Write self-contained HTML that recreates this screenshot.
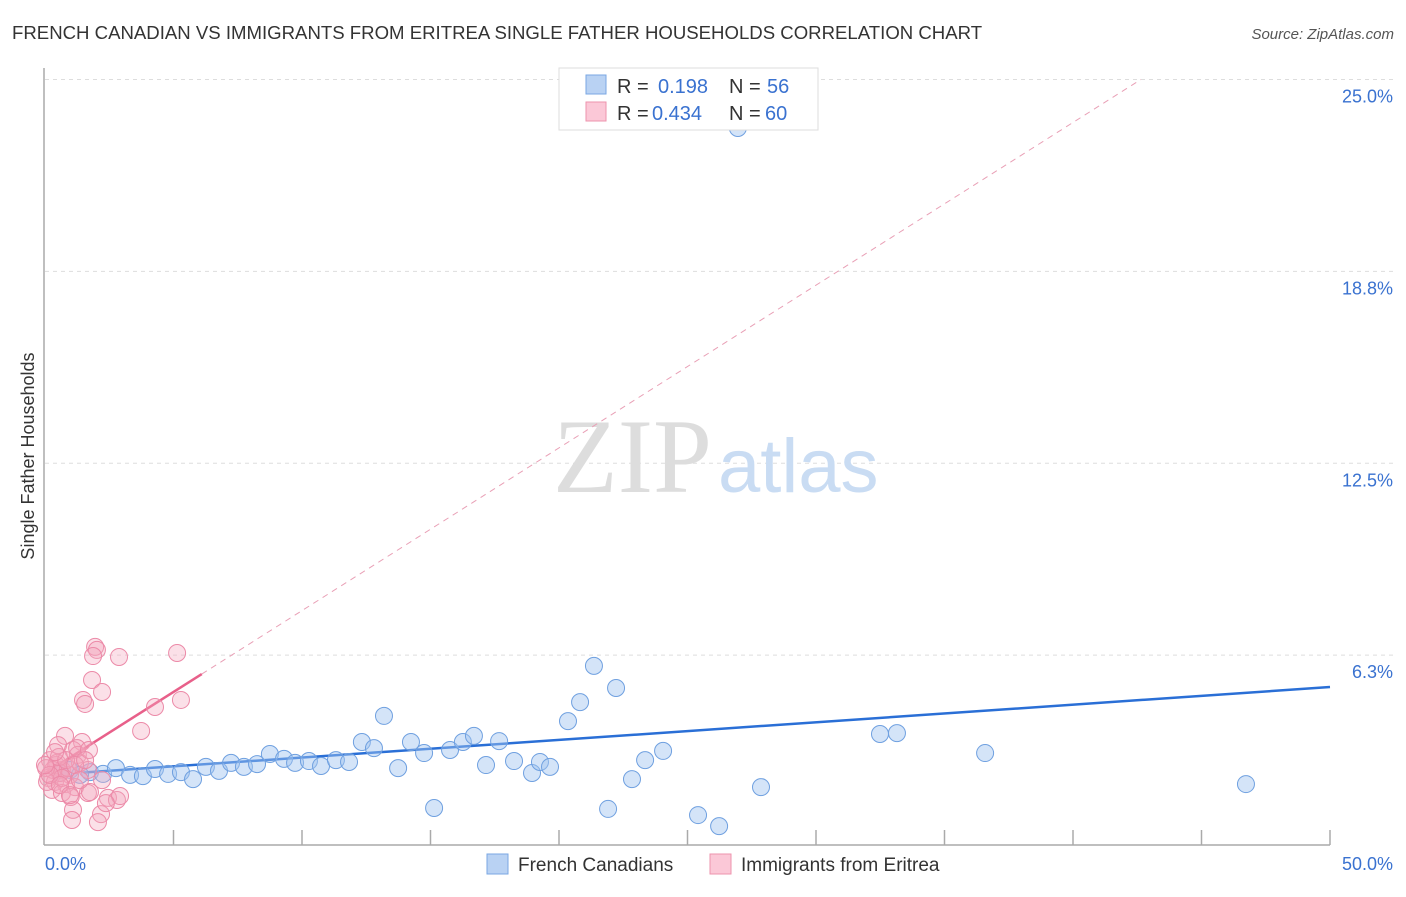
<!DOCTYPE html>
<html><head><meta charset="utf-8"><style>
body{margin:0;background:#fff;font-family:"Liberation Sans",sans-serif;}
svg text{font-family:"Liberation Sans",sans-serif;}
</style></head><body>
<svg width="1406" height="892">
<text x="12" y="39" font-size="18.6" fill="#333">FRENCH CANADIAN VS IMMIGRANTS FROM ERITREA SINGLE FATHER HOUSEHOLDS CORRELATION CHART</text>
<text x="1394" y="39" font-size="15" fill="#555" font-style="italic" text-anchor="end">Source: ZipAtlas.com</text>
<text transform="translate(34,456) rotate(-90)" font-size="18" fill="#333" text-anchor="middle">Single Father Households</text>
<g id="grid"></g>
<text x="553" y="492" font-size="106" fill="#ddd" style="font-family:'Liberation Serif',serif">ZIP</text>
<text x="718" y="492" font-size="76" fill="#c9dcf3">atlas</text>
<line x1="44" y1="68" x2="44" y2="845" stroke="#aaa" stroke-width="1.5"/>
<line x1="44" y1="845" x2="1330" y2="845" stroke="#aaa" stroke-width="1.5"/>
<g id="ticks"></g>
<g id="lines"></g>
<g id="pts"></g>
<g>
<rect x="559" y="68" width="259" height="62" fill="#fff" stroke="#ddd"/>
<rect x="586" y="75" width="20" height="19" fill="#b9d2f3" stroke="#7aa7e3"/>
<rect x="586" y="102" width="20" height="19" fill="#fbc8d7" stroke="#ee93ad"/>
<text x="617" y="93" font-size="20" fill="#333">R =</text><text x="658" y="93" font-size="20" fill="#3a72d0">0.198</text>
<text x="729" y="93" font-size="20" fill="#333">N =</text><text x="767" y="93" font-size="20" fill="#3a72d0">56</text>
<text x="617" y="120" font-size="20" fill="#333">R =</text><text x="652" y="120" font-size="20" fill="#3a72d0">0.434</text>
<text x="729" y="120" font-size="20" fill="#333">N =</text><text x="765" y="120" font-size="20" fill="#3a72d0">60</text>
</g>
<text x="45" y="870" font-size="18" fill="#3a72d0">0.0%</text>
<text x="1393" y="870" font-size="18" fill="#3a72d0" text-anchor="end">50.0%</text>
<g>
<rect x="487" y="854" width="21" height="20" fill="#b9d2f3" stroke="#7aa7e3"/>
<text x="518" y="871" font-size="19" fill="#333">French Canadians</text>
<rect x="710" y="854" width="21" height="20" fill="#fbc8d7" stroke="#ee93ad"/>
<text x="741" y="871" font-size="19" fill="#333">Immigrants from Eritrea</text>
</g>
</svg>
<script>
const yTicks=[6.25,12.5,18.75,25];
const yTickLabels=["6.3%","12.5%","18.8%","25.0%"];
const xTicks=[5,10,15,20,25,30,35,40,45,50];
const blueX=[1.75,2.26,2.76,3.31,3.81,4.28,4.79,5.29,5.76,6.26,6.77,7.24,7.74,8.25,8.75,9.30,9.73,10.27,10.74,11.32,11.83,12.33,12.80,13.19,13.74,14.24,14.75,15.14,15.76,16.26,16.69,17.16,17.67,18.25,18.95,19.26,19.65,20.35,20.82,21.36,21.91,22.22,22.84,23.35,24.05,25.41,26.23,26.96,27.86,32.49,33.15,36.58,46.73,0.97,1.36,0.58];
const blueY=[2.44,2.38,2.57,2.35,2.31,2.54,2.38,2.44,2.21,2.61,2.48,2.74,2.61,2.70,3.03,2.87,2.74,2.80,2.64,2.83,2.77,3.42,3.22,4.27,2.57,3.42,3.06,1.27,3.16,3.42,3.62,2.67,3.45,2.80,2.41,2.77,2.61,4.10,4.72,5.90,1.24,5.18,2.21,2.83,3.13,1.04,0.68,23.42,1.95,3.68,3.71,3.06,2.05,2.51,2.35,2.41];
const pinkX=[1.95,2.02,1.87,2.88,5.14,1.83,2.22,1.48,1.56,4.28,5.29,3.74,0.78,1.44,0.51,1.09,1.28,0.19,0.43,0.66,0.97,0.12,0.39,0.82,1.17,0.27,0.66,1.0,1.67,1.75,2.45,2.80,2.92,1.09,2.18,2.37,1.05,2.06,0.47,0.58,0.89,0.31,0.04,1.36,1.67,0.08,0.54,0.82,1.17,0.66,0.19,1.25,1.71,0.58,1.36,0.97,2.22,0,0.39,1.56];
const pinkY=[6.52,6.42,6.22,6.19,6.32,5.44,5.05,4.79,4.66,4.56,4.79,3.78,3.62,3.42,3.32,3.16,3.0,2.83,2.67,2.51,2.35,2.25,2.12,2.05,1.95,1.86,1.76,1.63,1.76,1.79,1.60,1.53,1.66,1.21,1.07,1.43,0.88,0.81,2.74,2.41,2.57,2.51,2.57,2.74,2.51,2.12,2.93,2.83,2.67,2.25,2.35,3.22,3.16,2.02,2.18,1.69,2.18,2.67,3.09,2.83];
const blueTrend=[2.34,0.0574], pinkTrend=[2.4,0.53];
const X=v=>45+v*25.7, Y=v=>847-v*30.7;
const NS="http://www.w3.org/2000/svg";
function mk(t,a,p){const e=document.createElementNS(NS,t);for(const k in a)e.setAttribute(k,a[k]);document.getElementById(p).appendChild(e);return e;}
yTicks.forEach((t,i)=>{
 const l=mk('line',{x1:45,x2:1395,y1:Y(t),y2:Y(t),stroke:'#ddd','stroke-dasharray':'4,4'},'grid');
 
 
 const tx=mk('text',{x:1393,y:Y(t)+23,'font-size':18,fill:'#3a72d0','text-anchor':'end'},'grid');
 tx.textContent=yTickLabels[i];
 
 
});
xTicks.forEach(t=>{
 const l=mk('line',{x1:X(t),x2:X(t),y1:830,y2:845,stroke:'#aaa','stroke-width':1.5},'ticks');
 
 
});
blueX.forEach((x,i)=>{
 const c=mk('circle',{cx:X(x),cy:Y(blueY[i]),r:8.5,fill:'rgba(160,196,240,0.45)',stroke:'#6fa0e0','stroke-width':1},'pts');
 
 
});
pinkX.forEach((x,i)=>{
 const c=mk('circle',{cx:X(x),cy:Y(pinkY[i]),r:8.5,fill:'rgba(244,165,190,0.35)',stroke:'#ec8aa8','stroke-width':1},'pts');
 
 
});
const bl=mk('line',{x1:X(1.5),y1:Y(blueTrend[0]+blueTrend[1]*1.5),x2:X(50),y2:Y(blueTrend[0]+blueTrend[1]*50),stroke:'#2a6fd6','stroke-width':2.5},'lines');


const xe=(25-pinkTrend[0])/pinkTrend[1];
const pd=mk('line',{x1:X(6.1),y1:Y(pinkTrend[0]+pinkTrend[1]*6.1),x2:X(xe),y2:Y(25),stroke:'#e9a0b6','stroke-width':1,'stroke-dasharray':'6,5'},'lines');


const pl=mk('line',{x1:X(0),y1:Y(pinkTrend[0]),x2:X(6.1),y2:Y(pinkTrend[0]+pinkTrend[1]*6.1),stroke:'#e8608a','stroke-width':2.5},'lines');


</script>
</body></html>
